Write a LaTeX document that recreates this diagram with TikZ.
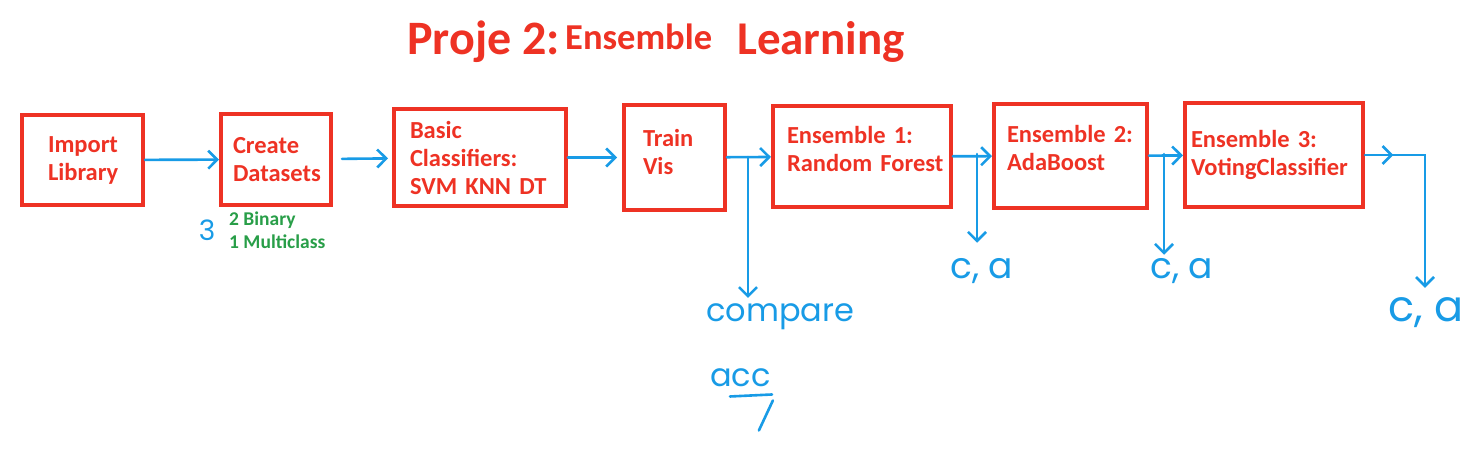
\documentclass[tikz,border=0pt]{standalone}
\usepackage{fontspec}
\setmainfont{Carlito}
\newfontfamily\handfont{Poppins}
\usetikzlibrary{arrows.meta,decorations.markings}
\definecolor{boxred}{RGB}{238,50,36}
\definecolor{penblue}{RGB}{24,155,230}
\definecolor{notegreen}{RGB}{40,158,72}
\tikzset{
  procbox/.style={draw=boxred,line width=4pt,align=left,text=boxred,inner sep=0pt,
    font=\fontsize{24.5}{28}\selectfont\bfseries},
  flowline/.style={draw=penblue,line width=2.6pt,line cap=round},
  flowarr/.style={flowline,-{Straight Barb[length=9pt,width=18pt]}},
  handtxt/.style={text=penblue,inner sep=0pt,font=\handfont\fontsize{32}{40}\selectfont},
  notetxt/.style={text=notegreen,align=left,inner sep=0pt,font=\fontsize{19.5}{23}\selectfont\bfseries},
  titletxt/.style={text=boxred,inner sep=0pt,anchor=base west}
}
\begin{document}
\begin{tikzpicture}[x=1pt,y=-1pt]
  \useasboundingbox (0,0) rectangle (1481,454);

  \node[titletxt,font=\fontsize{48}{50}\selectfont\bfseries] (t1) at (407,55) {Proje 2:};
  \node[titletxt,font=\fontsize{36.5}{40}\selectfont\bfseries] (t2) at (565,50) {Ensemble};
  \node[titletxt,font=\fontsize{47}{50}\selectfont\bfseries] (t3) at (737,55) {Learning};

  \node[procbox,minimum width=121,minimum height=90,text width=69] (imp) at (82.5,160) {Import\\Library};
  \node[procbox,minimum width=110,minimum height=91,text width=86] (cds) at (276,159.5) {Create\\Datasets};
  \node[procbox,minimum width=172,minimum height=97,text width=140] (bcl) at (480,157.5) {Basic\\Classifiers:\\\mbox{SVM KNN DT}};
  \node[procbox,minimum width=101,minimum height=105,text width=63] (trv) at (674.5,157.5) {Train\\Vis\\[-17pt]\mbox{}};
  \node[procbox,minimum width=178,minimum height=101,text width=150] (en1) at (862,156.5) {\mbox{Ensemble 1:}\\\mbox{Random Forest}\\[-12pt]\mbox{}};
  \node[procbox,minimum width=153,minimum height=104,text width=127] (en2) at (1070.5,156) {\mbox{Ensemble 2:}\\AdaBoost\\[-12pt]\mbox{}};
  \node[procbox,minimum width=178,minimum height=104,text width=166] (en3) at (1274,155) {\mbox{Ensemble 3:}\\VotingClassifier};

  \node[notetxt,anchor=base west] (bin) at (229,249) {2 Binary\\1 Multiclass};
  \node[handtxt,font=\handfont\fontsize{28}{30}\selectfont] (three) at (207,230) {3};

  \node[handtxt,anchor=base west] (cmp) at (706,322) {compare};
  \node[handtxt,anchor=base west] (acc) at (710,386) {acc};
  \node[handtxt,anchor=base west,font=\handfont\fontsize{36}{40}\selectfont] (ca1) at (950,279) {c, a};
  \node[handtxt,anchor=base west,font=\handfont\fontsize{36}{40}\selectfont] (ca2) at (1150,279) {c, a};
  \node[handtxt,anchor=base west,font=\handfont\fontsize{43}{46}\selectfont] (ca3) at (1388,322) {c, a};

  \coordinate (b1) at (748,157);
  \coordinate (b2) at (977,154);
  \coordinate (b3) at (1164,154);
  \coordinate (b4) at (1425,155);

  \draw[flowarr] (imp) -- (cds);
  \draw[flowarr,shorten <=9pt,shorten >=4pt] (cds) -- (bcl);
  \draw[flowarr,shorten >=5pt] (bcl) -- (trv);
  \draw[flowarr] (trv) -- (en1);
  \draw[flowarr] (en1) -- (en2);
  \draw[flowarr] (en2) -- (en3);
  \draw[flowarr,shorten >=6pt] (b1) -- (b1 |- cmp.north);
  \draw[flowarr,shorten >=16pt] (b2) -- (b2 |- ca1.north);
  \draw[flowarr,shorten >=4pt] (b3) -- (b3 |- ca2.north);
  \draw[flowarr,shorten >=10pt,postaction={decorate},
    decoration={markings,mark=at position 0.14 with {\arrow{Straight Barb[length=9pt,width=18pt]}}}]
    (en3.east) -- (b4) -- (b4 |- ca3.north);
  \draw[flowline] (acc.south west) ++(20,10) -- ++(42,-2);
  \draw[flowline] (acc.south east) ++(2,14) -- ++(-14,30);
\end{tikzpicture}
\end{document}
